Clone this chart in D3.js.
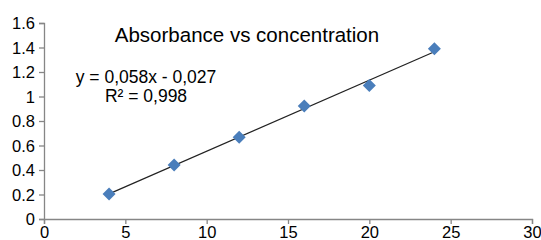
<!DOCTYPE html>
<html><head><meta charset="utf-8">
<script src="https://cdn.jsdelivr.net/npm/d3@7"></script>
<style>
html,body{margin:0;padding:0;background:#fff;}
svg{display:block;font-family:"Liberation Sans",Arial,sans-serif;}
</style></head>
<body><svg id="c" width="541" height="240"></svg>
<script>
const concentration = [4, 8, 12, 16, 20, 24];
const absorbance = [0.204, 0.44, 0.667, 0.922, 1.09, 1.39];
const xTicks = [0, 5, 10, 15, 20, 25, 30];
const yTicks = [0, 0.2, 0.4, 0.6, 0.8, 1, 1.2, 1.4, 1.6];
const trendSlope = 0.058, trendIntercept = -0.027;
const titleText = "Absorbance vs concentration";
const eqLines = ["y = 0,058x - 0,027", "R\u00b2 = 0,998"];

const svg = d3.select("#c");
const m = {l: 44, r: 9, t: 23, b: 21};
const W = 541, H = 240;
const x = d3.scaleLinear().domain([0, 30]).range([m.l, W - m.r]);
const y = d3.scaleLinear().domain([0, 1.6]).range([H - m.b, m.t]);
const axisColor = "#868686";

const yAxis = svg.append("g").attr("transform", `translate(${m.l},0)`)
  .call(d3.axisLeft(y).tickValues(yTicks).tickSize(5).tickPadding(4).tickFormat(d => String(d)));
const xAxis = svg.append("g").attr("transform", `translate(0,${H - m.b})`)
  .call(d3.axisBottom(x).tickValues(xTicks).tickSize(5).tickPadding(2).tickFormat(d => String(d)));
[yAxis, xAxis].forEach(g => {
  g.select(".domain").attr("stroke", axisColor).attr("stroke-width", 1.3);
  g.selectAll(".tick line").attr("stroke", axisColor).attr("stroke-width", 1.3);
  g.selectAll(".tick text").attr("fill", "#000").style("font-size", "16.5px")
    .style("font-family", "'Liberation Sans',Arial,sans-serif");
});
yAxis.selectAll(".tick text").attr("dy", "0.36em");

// trendline
const x0 = d3.min(concentration), x1 = d3.max(concentration);
svg.append("line")
  .attr("x1", x(x0)).attr("y1", y(trendSlope * x0 + trendIntercept))
  .attr("x2", x(x1)).attr("y2", y(trendSlope * x1 + trendIntercept))
  .attr("stroke", "#222").attr("stroke-width", 1.2);

// markers
const s = 6.5;
svg.append("g").selectAll("path").data(concentration).join("path")
  .attr("transform", (d, i) => `translate(${x(d)},${y(absorbance[i])})`)
  .attr("d", `M0,${-s}L${s},0L0,${s}L${-s},0Z`)
  .attr("fill", "#4a7ebb");

svg.append("text").attr("x", 247).attr("y", 42).attr("text-anchor", "middle")
  .style("font-size", "20.5px").attr("fill", "#000").text(titleText);

svg.append("text").attr("x", 146).attr("y", 83).attr("text-anchor", "middle")
  .style("font-size", "17.5px").attr("fill", "#000").text(eqLines[0]);
svg.append("text").attr("x", 146).attr("y", 102).attr("text-anchor", "middle")
  .style("font-size", "17.5px").attr("fill", "#000").text(eqLines[1]);
</script></body></html>
